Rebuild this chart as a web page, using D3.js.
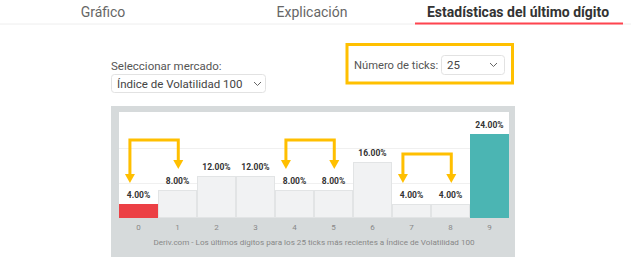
<!DOCTYPE html>
<html>
<head>
<meta charset="utf-8">
<script src="https://cdn.jsdelivr.net/npm/d3@7"></script>
<style>
  body { margin: 0; background: #fff; }
  svg { display: block; font-family: Roboto, "Noto Sans", sans-serif; }
</style>
</head>
<body>
<div id="chart"></div>
<script>
// data
const digits = ['0', '1', '2', '3', '4', '5', '6', '7', '8', '9']
const percents = [4, 8, 12, 12, 8, 8, 16, 4, 4, 24]
const gridTicks = [10, 20]
const tabs = ['Gráfico', 'Explicación', 'Estadísticas del último dígito']
const arrowPairs = [['0', '1'], ['4', '5'], ['7', '8']]
const caption = 'Deriv.com - Los últimos dígitos para los 25 ticks más recientes a Índice de Volatilidad 100'

async function draw() {
    const dimensions = { width: 631, height: 259 }

    const svg = d3.select('#chart')
        .append('svg')
        .attr('width', dimensions.width)
        .attr('height', dimensions.height)

    // tabs
    const tabX = [103, 312, 518]
    svg.append('line')
        .attr('x1', 0).attr('x2', dimensions.width)
        .attr('y1', 24).attr('y2', 24)
        .attr('stroke', '#eeeeee')
    svg.selectAll('text.tab')
        .data(tabs)
        .join('text')
        .classed('tab', true)
        .attr('x', (d, i) => tabX[i])
        .attr('y', 17)
        .attr('text-anchor', 'middle')
        .attr('font-size', 14)
        .attr('font-weight', (d, i) => i === 2 ? 700 : 400)
        .attr('fill', (d, i) => i === 2 ? '#333' : '#666')
        .text(d => d)
    svg.append('rect')
        .attr('x', 415).attr('y', 22.5)
        .attr('width', 208).attr('height', 2)
        .attr('fill', '#ff444f')

    // selects
    svg.append('text')
        .attr('x', 111).attr('y', 70)
        .attr('font-size', 11.5).attr('fill', '#555')
        .text('Seleccionar mercado:')
    svg.append('rect')
        .attr('x', 111.5).attr('y', 74.5)
        .attr('width', 154).attr('height', 18).attr('rx', 3)
        .attr('fill', '#fff').attr('stroke', '#e2e2e2')
    svg.append('text')
        .attr('x', 117).attr('y', 88)
        .attr('font-size', 11.5).attr('fill', '#444')
        .text('Índice de Volatilidad 100')
    svg.append('path')
        .attr('d', 'M254,82 l3.5,3.5 l3.5,-3.5')
        .attr('fill', 'none').attr('stroke', '#666')

    svg.append('text')
        .attr('x', 354).attr('y', 69)
        .attr('font-size', 11.2).attr('fill', '#555')
        .text('Número de ticks:')
    svg.append('rect')
        .attr('x', 441.5).attr('y', 55.5)
        .attr('width', 63).attr('height', 19).attr('rx', 3)
        .attr('fill', '#fff').attr('stroke', '#e2e2e2')
    svg.append('text')
        .attr('x', 447).attr('y', 69)
        .attr('font-size', 11.5).attr('fill', '#444')
        .text('25')
    svg.append('path')
        .attr('d', 'M490,63 l3.5,3.5 l3.5,-3.5')
        .attr('fill', 'none').attr('stroke', '#666')
    svg.append('rect')
        .attr('x', 347).attr('y', 44.5)
        .attr('width', 165.5).attr('height', 38.5)
        .attr('fill', 'none').attr('stroke', '#ffc000').attr('stroke-width', 3)

    // chart panel
    svg.append('rect')
        .attr('x', 111).attr('y', 106)
        .attr('width', 404).attr('height', 151)
        .attr('fill', '#d6dadb')
    svg.append('rect')
        .attr('x', 119).attr('y', 112)
        .attr('width', 390).attr('height', 106)
        .attr('fill', '#fff')

    const xScale = d3.scaleBand()
        .domain(digits)
        .range([119, 509])

    const yScale = d3.scaleLinear()
        .domain([0, 30])
        .range([218, 113])

    // grid
    svg.append('g')
        .selectAll('line')
        .data(gridTicks)
        .join('line')
        .attr('x1', 119).attr('x2', 509)
        .attr('y1', d => yScale(d) + 0.5).attr('y2', d => yScale(d) + 0.5)
        .attr('stroke', '#f0f0f0')

    const maxV = d3.max(percents)
    const minV = d3.min(percents)
    const color = (v, i) => v === maxV ? '#4bb5b3' : (v === minV && i === percents.indexOf(minV) ? '#ec4045' : '#f1f2f3')

    svg.append('g')
        .selectAll('rect')
        .data(percents)
        .join('rect')
        .attr('x', (d, i) => xScale(digits[i]) + 0.5)
        .attr('y', d => yScale(d) + 0.5)
        .attr('width', xScale.bandwidth() - 1)
        .attr('height', d => yScale(0) - yScale(d) - 1)
        .attr('fill', color)
        .attr('stroke', (d, i) => color(d, i) === '#f1f2f3' ? '#e2e4e5' : color(d, i))

    svg.append('g')
        .selectAll('text')
        .data(percents)
        .join('text')
        .attr('x', (d, i) => xScale(digits[i]) + xScale.bandwidth() / 2)
        .attr('y', d => yScale(d) - 6)
        .attr('text-anchor', 'middle')
        .attr('font-size', 8.5)
        .attr('font-weight', 700)
        .attr('fill', '#333')
        .text(d => d.toFixed(2) + '%')

    // x axis
    const xAxis = d3.axisBottom(xScale).tickSize(0).tickPadding(6)
    const axisG = svg.append('g')
        .attr('transform', `translate(0, 218)`)
        .call(xAxis)
    axisG.select('.domain').remove()
    axisG.selectAll('text')
        .attr('font-size', 8)
        .attr('font-family', 'Roboto, sans-serif')
        .attr('fill', '#888')

    svg.append('text')
        .attr('x', 314).attr('y', 245)
        .attr('text-anchor', 'middle')
        .attr('font-size', 8.1)
        .attr('fill', '#888')
        .text(caption)

    // arrows
    const arrowColor = '#ffbf00'
    const bw = xScale.bandwidth()
    const arrows = svg.append('g')
    arrowPairs.forEach(([a, b]) => {
        const ia = digits.indexOf(a), ib = digits.indexOf(b)
        const xa = xScale(a) + bw * 0.28
        const xb = xScale(b) + bw * 0.52
        const ta = yScale(percents[ia]) - 21
        const tb = yScale(percents[ib]) - 21
        const top = Math.min(ta, tb) - 29
        arrows.append('path')
            .attr('d', `M${xa},${ta - 7} V${top} H${xb} V${tb - 7}`)
            .attr('fill', 'none')
            .attr('stroke', arrowColor)
            .attr('stroke-width', 3)
        ;[[xa, ta], [xb, tb]].forEach(([x, t]) => {
            arrows.append('path')
                .attr('d', `M${x - 5},${t - 9} L${x + 5},${t - 9} L${x},${t} Z`)
                .attr('fill', arrowColor)
        })
    })
}

draw()
</script>
</body>
</html>
